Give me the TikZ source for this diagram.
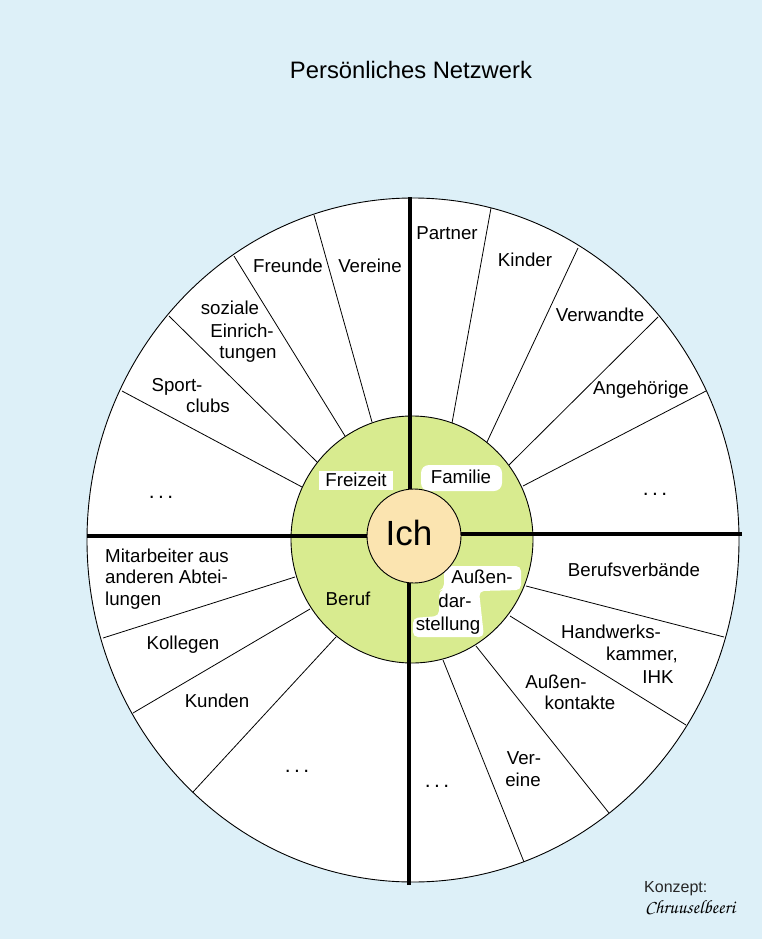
\documentclass[tikz,border=0pt]{standalone}
\usepackage[T1]{fontenc}
\usepackage{fontspec}
\setmainfont{Liberation Sans}
\definecolor{bgblue}{RGB}{221,240,248}
\definecolor{ringgreen}{RGB}{216,235,143}
\definecolor{ichpeach}{RGB}{251,228,176}
\begin{document}
\begin{tikzpicture}[x=1pt,y=-1pt,
  lbl/.style={font=\fontsize{18.7}{21.5}\selectfont, inner sep=0pt, anchor=base},
  lblw/.style={lbl, anchor=base west},
  dotlbl/.style={font=\fontsize{21}{24}\selectfont, inner sep=0pt, anchor=base},
  spoke/.style={line width=0.8pt},
  axisline/.style={line width=3.8pt},
  rim/.style={line width=0.9pt}]
\useasboundingbox (0,0) rectangle (762,939);
\fill[bgblue] (0,0) rectangle (762,939);
% outer ring
\coordinate (oc) at (413,540);
\filldraw[fill=white, draw=black, rim] (oc) ellipse [x radius=326pt, y radius=342pt];
% inner green ring
\coordinate (gc) at (412,539.5);
\filldraw[fill=ringgreen, draw=black, rim] (gc) ellipse [x radius=121pt, y radius=123.5pt];
% spokes
\foreach \n/\ix/\iy/\ox/\oy in {
  1/372/422/314/215, 2/345/436/234/256, 3/317/462/169/316, 4/302/487/122/391,
  5/452/423/491/208, 6/487/442/578/248, 7/509/465/658/317, 8/523/486/706/391,
  9/295/577/103/638, 10/310/609/133/713, 11/336/637/193/792,
  12/526/586/724/637, 13/510/616/686/725, 14/476/646/609/813, 15/443/660/524/862}{
  \coordinate (i\n) at (\ix,\iy);
  \coordinate (o\n) at (\ox,\oy);
  \draw[spoke] (i\n) -- (o\n);
}
% white patches behind inner labels
\fill[white] (319,471) rectangle (393,490);
\fill[white, rounded corners=8pt] (421,465) rectangle (502,491);
\fill[white, rounded corners=5pt] (444,566) -- (521,566) -- (521,590) -- (479,591)
  -- (484,637) -- (413,637) -- (413,618) -- (439,616) -- (439,591) -- (444,589) -- cycle;
% axes
\coordinate (atop) at (410,197);
\coordinate (abot) at (409,885);
\coordinate (aleft) at (87,536);
\coordinate (aright) at (742,534);
\coordinate (c) at (414,536);
\draw[axisline] (atop) -- (410,500);
\draw[axisline] (abot) -- (409,570);
\draw[axisline] (aleft) -- (380,536);
\draw[axisline] (aright) -- (450,534);
% Ich circle
\filldraw[fill=ichpeach, draw=black, rim] (c) circle [radius=47pt];
\node[font=\fontsize{35}{40}\selectfont, inner sep=0pt, anchor=base] (ich) at (409,545) {Ich};
% title
\node[font=\fontsize{23.8}{28}\selectfont, inner sep=0pt, anchor=base] (title) at (411,79) {Persönliches Netzwerk};
% inner labels
\node[lbl] (freizeit) at (356,486) {Freizeit};
\node[lbl] (familie) at (461,483) {Familie};
\node[lbl] (beruf) at (348,605) {Beruf};
\node[lbl] (aus1) at (482,583) {Außen-};
\node[lbl] (aus2) at (455,607) {dar-};
\node[lbl] (aus3) at (448,630) {stellung};
% upper left
\node[lbl] (vereine) at (370,272) {Vereine};
\node[lbl] (freunde) at (288,272) {Freunde};
\node[lbl] (soz1) at (230,314) {soziale};
\node[lbl] (soz2) at (242,337) {Einrich-};
\node[lbl] (soz3) at (248,358) {tungen};
\node[lbl] (sport1) at (177,391) {Sport-};
\node[lbl] (sport2) at (208,412) {clubs};
\node[dotlbl] (dotsul) at (161,498) {.\,.\,.};
% upper right
\node[lbl] (partner) at (447,239) {Partner};
\node[lbl] (kinder) at (525,266) {Kinder};
\node[lbl] (verwandte) at (600,321) {Verwandte};
\node[lbl] (angeh) at (641,394) {Angehörige};
\node[dotlbl] (dotsur) at (655,495) {.\,.\,.};
% lower left
\node[lblw] (mit1) at (105,562) {Mitarbeiter aus};
\node[lblw] (mit2) at (105,583) {anderen Abtei-};
\node[lblw] (mit3) at (105,605) {lungen};
\node[lbl] (kollegen) at (183,649) {Kollegen};
\node[lbl] (kunden) at (217,707) {Kunden};
\node[dotlbl] (dotsll) at (297,772) {.\,.\,.};
% lower right
\node[lbl] (bverb) at (634,576) {Berufsverbände};
\node[lbl] (hw1) at (611,638) {Handwerks-};
\node[lbl] (hw2) at (642,660) {kammer,};
\node[lbl] (hw3) at (658,683) {IHK};
\node[lbl] (ak1) at (556,688) {Außen-};
\node[lbl] (ak2) at (580,709) {kontakte};
\node[lbl] (ver1) at (524,764) {Ver-};
\node[lbl] (ver2) at (523,786) {eine};
\node[dotlbl] (dotslr) at (437,787) {.\,.\,.};
% signature
\node[font=\fontsize{16}{19}\selectfont, text=black!85, inner sep=0pt, anchor=base west] (konzept) at (644,892) {Konzept:};
\node[inner sep=0pt, anchor=base west] (sig) at (645,913) {\fontencoding{T1}\fontfamily{pzc}\fontseries{mb}\fontshape{it}\fontsize{19}{22}\selectfont Chruuselbeeri};
\end{tikzpicture}
\end{document}
